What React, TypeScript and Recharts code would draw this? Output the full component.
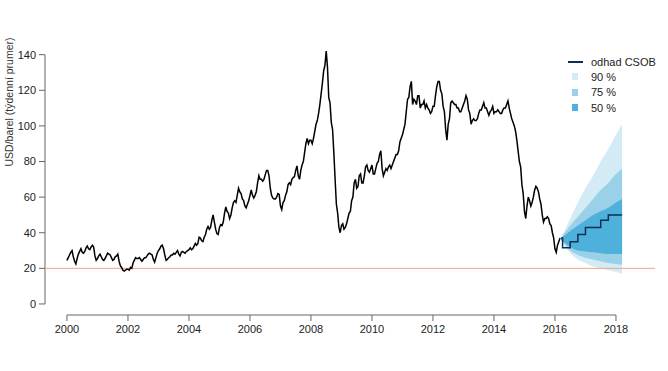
import {
  ComposedChart,
  Line,
  Area,
  XAxis,
  YAxis,
  ReferenceLine,
} from 'recharts';

// Brent, semi-monthly approximations of the weekly series (USD/barrel)
const years = [2000, 2001, 2002, 2003, 2004, 2005, 2006, 2007, 2008, 2009, 2010, 2011, 2012, 2013, 2014, 2015];
const brentByYear: number[][] = [
  [24.5, 26, 27.5, 29, 30, 26.5, 24, 22.5, 25.5, 28, 29.5, 31, 29, 28.5, 29.5, 31.5, 32.5, 31, 30.5, 32, 33, 32, 27, 24.5],
  [25.5, 27, 28, 26.5, 25, 24.5, 25.5, 27, 28.5, 28, 27.5, 26, 24.5, 25, 26.5, 27, 28, 24, 21.5, 20.5, 19, 18.5, 19, 19.5],
  [19.5, 19, 20.5, 20, 23, 24.5, 26, 25.5, 25.5, 26, 25, 24, 25, 26, 26, 27, 28, 28.5, 28, 27.5, 25, 23.5, 26, 28.5],
  [30, 31, 32.5, 33, 31, 27.5, 24.5, 25, 26, 26.5, 27.5, 27.5, 28.5, 28, 29, 30, 28, 27, 29, 29.5, 29, 28.5, 29.5, 30],
  [30.5, 31.5, 30.5, 31, 32.5, 34, 33, 34, 37.5, 37, 35.5, 35, 37.5, 39, 42, 43.5, 42, 43, 47, 50, 46, 42, 39.5, 39],
  [43, 44.5, 44, 46, 51, 54.5, 52, 51, 48, 50, 54, 57, 58, 57, 61, 65, 63, 62, 59, 58, 55, 54, 56, 58],
  [61, 64, 61, 59.5, 61, 63, 68, 72, 70, 70, 69, 70, 72.5, 75, 75, 72, 65, 61, 59.5, 59, 59, 60, 62, 61.5],
  [55, 53, 57, 58, 61, 63, 67, 68, 67, 70, 71, 71.5, 75, 77.5, 72, 70, 75, 78, 80, 85, 90, 93, 90, 92],
  [92, 90, 93, 97, 101, 103, 107, 112, 118, 124, 131, 134, 142, 133, 116, 113, 102, 98, 85, 70, 56, 51, 43, 40],
  [44, 45, 42, 43, 45, 48, 51, 52, 58, 60, 68, 70, 65, 66, 72, 73, 68, 68, 72, 77, 78, 75, 74, 76],
  [78, 73, 73, 76, 79, 80, 84, 86, 76, 72, 74, 76, 75, 77, 78, 76, 78, 80, 82, 84, 84, 86, 91, 93],
  [95, 98, 101, 108, 115, 116, 122, 125, 112, 115, 114, 112, 117, 117, 110, 112, 112, 114, 110, 112, 110, 109, 107, 108],
  [111, 111, 117, 122, 125, 125, 120, 118, 111, 108, 98, 92, 101, 104, 113, 114, 113, 112, 112, 110, 110, 108, 108, 110],
  [112, 114, 117, 115, 109, 107, 101, 103, 104, 103, 103, 104, 107, 109, 109, 111, 113, 110, 110, 108, 106, 108, 109, 111],
  [107, 108, 108, 109, 108, 107, 107, 109, 110, 110, 112, 114, 110, 107, 104, 102, 100, 97, 92, 86, 80, 77, 67, 62],
  [52, 48, 55, 60, 58, 55, 57, 60, 64, 66, 65, 63, 59, 56, 50, 46, 48, 48, 49, 48, 45, 44, 40, 37],
];
const brent2016 = [31, 29, 33, 35, 37];

// CSOB forecast (quarterly) and fan bands
const fanT = [2016.2, 2016.5, 2016.75, 2017.0, 2017.25, 2017.5, 2017.75, 2018.0, 2018.2];
const up90 = [37, 48, 57, 65, 72, 80, 87, 95, 101];
const up75 = [37, 44, 49, 54, 59, 64, 68, 73, 76];
const up50 = [37, 41, 44, 47, 50, 52, 54, 57, 59];
const lo50 = [36, 32, 30, 29.5, 29, 28.5, 28, 28, 28];
const lo75 = [36, 30, 27.5, 26, 25, 24, 23, 22.5, 22];
const lo90 = [36, 28.5, 25, 23, 21, 20, 19, 18, 17];

const forecastT = [2016.2, 2016.25, 2016.5, 2016.75, 2017.0, 2017.5, 2017.75, 2018.2];
const forecastV = [37, 31.5, 35, 39, 43, 47, 50, 50];

const xTicks = [2000, 2002, 2004, 2006, 2008, 2010, 2012, 2014, 2016, 2018];
const yTicks = [0, 20, 40, 60, 80, 100, 120, 140];

const histData = [
  ...years.flatMap((y, i) => brentByYear[i].map((v, k) => ({ t: y + k / 24, v }))),
  ...brent2016.map((v, k) => ({ t: 2016 + k / 24, v })),
];
const fanData = fanT.map((t, i) => ({
  t,
  b90: [lo90[i], up90[i]],
  b75: [lo75[i], up75[i]],
  b50: [lo50[i], up50[i]],
}));
const forecastData = forecastT.map((t, i) => ({ t, v: forecastV[i] }));

const C90 = '#d3ebf5';
const C75 = '#9bd1e8';
const C50 = '#4db1db';
const NAVY = '#0d2f52';
const AXIS = '#666';
const font = '"Liberation Sans", Arial, sans-serif';

const legendRows = [
  { label: '90 %', color: C90 },
  { label: '75 %', color: C75 },
  { label: '50 %', color: C50 },
];

export default function App() {
  return (
    <div style={{ position: 'absolute', left: 0, top: 0, width: 668, height: 371, background: '#fff', fontFamily: font }}>
      <ComposedChart width={668} height={371} margin={{ top: 44, right: 13, left: 0, bottom: 0 }}>
        <XAxis
          type="number"
          dataKey="t"
          domain={[1999.28, 2019.28]}
          ticks={xTicks}
          axisLine={false}
          tickLine={{ stroke: AXIS }}
          tickSize={6}
          tickMargin={4}
          height={56}
          tick={{ fill: '#222', fontSize: 11, fontFamily: font }}
          allowDataOverflow
        />
        <YAxis
          type="number"
          domain={[-6.2, 146]}
          ticks={yTicks}
          axisLine={false}
          tickLine={{ stroke: AXIS }}
          tickSize={6}
          tickMargin={3}
          width={45}
          tick={{ fill: '#222', fontSize: 11, fontFamily: font }}
          allowDataOverflow
        />
        <ReferenceLine segment={[{ x: 2000, y: -6.2 }, { x: 2018, y: -6.2 }]} stroke={AXIS} ifOverflow="visible" />
        <ReferenceLine segment={[{ x: 1999.28, y: 0 }, { x: 1999.28, y: 140 }]} stroke={AXIS} ifOverflow="visible" />
        <ReferenceLine y={20} stroke="#f2a57f" strokeWidth={1} />
        <Area data={fanData} dataKey="b90" type="monotone" stroke="none" fill={C90} fillOpacity={1} isAnimationActive={false} />
        <Area data={fanData} dataKey="b75" type="monotone" stroke="none" fill={C75} fillOpacity={1} isAnimationActive={false} />
        <Area data={fanData} dataKey="b50" type="monotone" stroke="none" fill={C50} fillOpacity={1} isAnimationActive={false} />
        <Line data={forecastData} dataKey="v" type="stepAfter" stroke={NAVY} strokeWidth={1.5} dot={false} isAnimationActive={false} />
        <Line data={histData} dataKey="v" type="linear" stroke="#000" strokeWidth={1.5} dot={false} isAnimationActive={false} />
      </ComposedChart>

      <div
        style={{
          position: 'absolute',
          left: 9,
          top: 102,
          transform: 'translate(-50%, -50%) rotate(-90deg)',
          fontSize: 10.5,
          color: '#333',
          whiteSpace: 'nowrap',
        }}
      >
        USD/barel (týdenní prumer)
      </div>

      <div style={{ position: 'absolute', left: 568, top: 54, fontSize: 11, color: '#222' }}>
        <div style={{ display: 'flex', alignItems: 'center', height: 15 }}>
          <div style={{ width: 15, height: 2, background: NAVY, marginRight: 8 }} />
          <span>odhad CSOB</span>
        </div>
        {legendRows.map((r) => (
          <div key={r.label} style={{ display: 'flex', alignItems: 'center', height: 15.5 }}>
            <div style={{ width: 6, height: 7, background: r.color, marginLeft: 4, marginRight: 13 }} />
            <span>{r.label}</span>
          </div>
        ))}
      </div>
    </div>
  );
}
